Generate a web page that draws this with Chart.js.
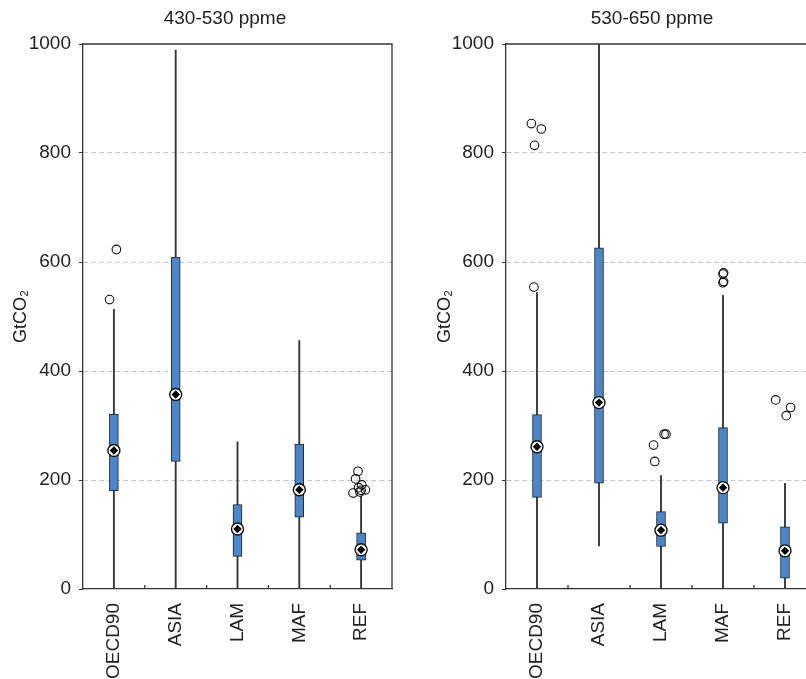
<!DOCTYPE html>
<html>
<head>
<meta charset="utf-8">
<script src="https://cdn.jsdelivr.net/npm/chart.js@4.4.0/dist/chart.umd.min.js"></script>
<style>
    html, body { margin: 0; padding: 0; background: #fff; overflow: hidden; }
    body { width: 806px; height: 679px; position: relative; }
    canvas { position: absolute; top: 0; }
    #chart-left { left: 0; }
    #chart-right { left: 400px; }
</style>
</head>
<body>
<canvas id="chart-left" width="450" height="679"></canvas>
<canvas id="chart-right" width="504" height="679"></canvas>
<script>
// Regiões (categorias)
const regions = ['OECD90', 'ASIA', 'LAM', 'MAF', 'REF'];

// Painel 1: 430-530 ppme
const lowA  = [0, 0, 0, 0, 0];
const q1A   = [180, 234, 60, 132, 53];
const medA  = [254, 357, 110, 182, 72];
const q3A   = [321, 609, 155, 266, 103];
const highA = [513, 989, 270, 456, 170];
const outRegionA = [0, 0, 4, 4, 4, 4, 4, 4, 4, 4];
const outValueA  = [531, 623, 216, 202, 191, 186, 182, 181, 178, 176];
const outJitterA = [-0.07, 0.04, -0.05, -0.09, 0.01, -0.04, 0.07, 0.0, -0.02, -0.13];

// Painel 2: 530-650 ppme
const lowB  = [0, 79, 0, 0, 0];
const q1B   = [168, 194, 78, 121, 20];
const medB  = [261, 342, 108, 186, 70];
const q3B   = [320, 626, 142, 296, 114];
const highB = [544, 1000, 208, 539, 194];
const outRegionB = [0, 0, 0, 0, 2, 2, 2, 2, 3, 3, 3, 3, 4, 4, 4];
const outValueB  = [854, 844, 814, 554, 284, 284, 264, 234, 580, 578, 564, 562, 347, 333, 318];
const outJitterB = [-0.09, 0.07, -0.04, -0.05, 0.05, 0.08, -0.12, -0.1, 0.01, 0.0, 0.01, 0.0, -0.15, 0.09, 0.02];

// Ticks do eixo Y
const yTicks = [0, 200, 400, 600, 800, 1000];

const FONT = 'Liberation Sans, Arial, Helvetica, sans-serif';
const BOX_BLUE = '#4a86c8';
const INK = '#222';

// Moldura superior/direita e marcas entre categorias
const framePlugin = {
    id: 'frame',
    afterDraw(chart) {
        const { ctx, chartArea: a, scales: { x } } = chart;
        ctx.save();
        ctx.strokeStyle = '#333';
        ctx.lineWidth = 1.3;
        ctx.beginPath();
        ctx.moveTo(a.left, a.top);
        ctx.lineTo(a.right, a.top);
        ctx.lineTo(a.right, a.bottom);
        for (let i = 1; i < x.ticks.length; i++) {
            const px = (x.getPixelForTick(i - 1) + x.getPixelForTick(i)) / 2;
            ctx.moveTo(px, a.bottom);
            ctx.lineTo(px, a.bottom - 4);
        }
        ctx.stroke();
        ctx.restore();
    }
};

function buildPanel(canvasId, title, low, q1, med, q3, high, outRegion, outValue, outJitter, geo) {
    const ctx = document.getElementById(canvasId);
    const outliers = outValue.map((v, k) => ({ x: outRegion[k] + outJitter[k], y: v }));
    const medians = med.map((v, i) => ({ x: i, y: v }));

    return new Chart(ctx, {
        type: 'bar',
        data: {
            labels: regions,
            datasets: [
                {
                    // bigodes
                    data: low.map((v, i) => [v, high[i]]),
                    backgroundColor: '#333',
                    borderWidth: 0,
                    barThickness: 1.2,
                    grouped: false,
                    order: 4
                },
                {
                    // caixas
                    data: q1.map((v, i) => [v, q3[i]]),
                    backgroundColor: BOX_BLUE,
                    borderColor: INK,
                    borderWidth: 1,
                    borderSkipped: false,
                    barThickness: 9,
                    grouped: false,
                    order: 3
                },
                {
                    type: 'scatter',
                    xAxisID: 'xj',
                    data: outliers,
                    pointStyle: 'circle',
                    pointRadius: 4.3,
                    pointBorderWidth: 1.1,
                    pointBorderColor: '#111',
                    pointBackgroundColor: 'rgba(0,0,0,0)',
                    order: 2
                },
                {
                    type: 'scatter',
                    xAxisID: 'xj',
                    data: medians,
                    pointStyle: 'circle',
                    pointRadius: 6,
                    pointBorderWidth: 1.4,
                    pointBorderColor: '#111',
                    pointBackgroundColor: '#fff',
                    order: 1
                },
                {
                    type: 'scatter',
                    xAxisID: 'xj',
                    data: medians,
                    pointStyle: 'rectRot',
                    pointRadius: 4.2,
                    pointBorderWidth: 0,
                    pointBackgroundColor: '#000',
                    order: 0
                }
            ]
        },
        options: {
            responsive: false,
            animation: false,
            layout: { padding: 0 },
            plugins: {
                legend: { display: false },
                tooltip: { enabled: false },
                title: {
                    display: true,
                    text: title,
                    color: INK,
                    font: { family: FONT, size: 19, weight: 'normal' },
                    padding: { top: 7, bottom: 14.2 }
                }
            },
            scales: {
                x: {
                    type: 'category',
                    offset: true,
                    grid: { drawOnChartArea: false, tickLength: 8, tickColor: 'rgba(0,0,0,0)' },
                    border: { color: '#333', width: 1.3 },
                    ticks: {
                        color: INK,
                        font: { family: FONT, size: 19 },
                        minRotation: 90,
                        maxRotation: 90,
                        padding: 6,
                        autoSkip: false
                    },
                    afterFit(scale) { scale.height = 90; }
                },
                xj: {
                    type: 'linear',
                    display: false,
                    offset: false,
                    min: -0.5,
                    max: regions.length - 0.5
                },
                y: {
                    min: yTicks[0],
                    max: yTicks[yTicks.length - 1],
                    afterBuildTicks(scale) { scale.ticks = yTicks.map(v => ({ value: v })); },
                    grid: {
                        color: (c) => (c.tick && (c.tick.value === 0 || c.tick.value === 1000)) ? 'rgba(0,0,0,0)' : '#c4c4c4',
                        lineWidth: 1,
                        tickLength: 4,
                        tickColor: '#333'
                    },
                    border: { color: '#333', width: 1.3, dash: [5, 3] },
                    ticks: {
                        color: INK,
                        font: { family: FONT, size: 19 },
                        padding: 8,
                        callback: (v) => String(v)
                    },
                    title: {
                        display: true,
                        text: 'GtCO₂',
                        color: INK,
                        font: { family: FONT, size: 18 },
                        padding: { top: geo.titlePad, bottom: 0 }
                    },
                    afterFit(scale) { scale.width = geo.yWidth; }
                },
                // eixo vazio à direita só para reservar espaço
                yr: {
                    position: 'right',
                    display: true,
                    grid: { display: false, drawTicks: false },
                    border: { display: false },
                    ticks: { display: false },
                    afterFit(scale) { scale.width = geo.rightSpace; }
                }
            }
        },
        plugins: [framePlugin]
    });
}

buildPanel('chart-left', '430-530 ppme', lowA, q1A, medA, q3A, highA, outRegionA, outValueA, outJitterA,
    { rightSpace: 58, yWidth: 83, titlePad: 10 });
buildPanel('chart-right', '530-650 ppme', lowB, q1B, medB, q3B, highB, outRegionB, outValueB, outJitterB,
    { rightSpace: 88, yWidth: 106, titlePad: 34 });
</script>
</body>
</html>
